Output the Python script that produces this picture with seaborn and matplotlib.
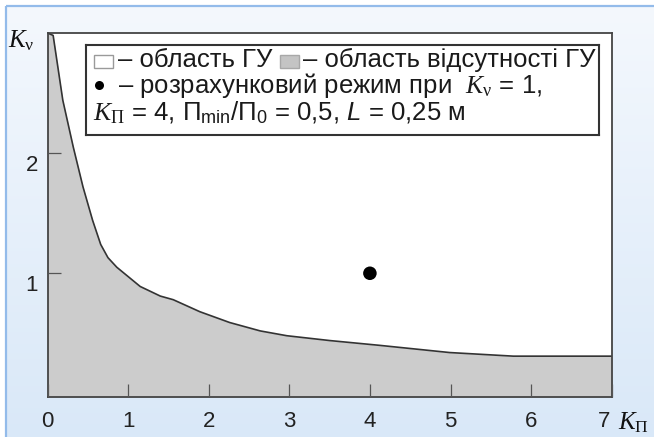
import numpy as np
import pandas as pd
import matplotlib
matplotlib.use("Agg")
import matplotlib.pyplot as plt
import matplotlib.transforms as mtransforms
from matplotlib.patches import Rectangle
import seaborn as sns

# Boundary of the region without the hydraulic shock (K_П vs K_ν)
k_pi = [0.0, 0.07, 0.19, 0.32, 0.44, 0.56, 0.66, 0.75, 0.86, 1.15, 1.40, 1.56,
        1.89, 2.26, 2.64, 2.97, 3.50, 4.12, 4.99, 5.78, 7.0]
k_nu = [3.0, 2.98, 2.44, 2.05, 1.72, 1.44, 1.24, 1.13, 1.05, 0.89, 0.81, 0.78,
        0.68, 0.59, 0.52, 0.48, 0.44, 0.40, 0.34, 0.31, 0.31]

# Design operating point
design_kpi = [4.0]
design_knu = [1.0]

x_ticks = [0, 1, 2, 3, 4, 5, 6, 7]
y_ticks = [1, 2]

boundary = pd.DataFrame({"kpi": k_pi, "knu": k_nu})
design = pd.DataFrame({"kpi": design_kpi, "knu": design_knu})

sns.set_theme(style="white")
plt.rcParams["font.family"] = ["Liberation Sans", "DejaVu Sans"]
plt.rcParams["mathtext.fontset"] = "custom"
plt.rcParams["mathtext.rm"] = "Liberation Sans"
plt.rcParams["mathtext.it"] = "Liberation Serif:italic"
plt.rcParams["mathtext.bf"] = "Liberation Serif"
plt.rcParams["mathtext.sf"] = "Liberation Sans:italic"

W, H = 654, 437
fig = plt.figure(figsize=(W / 100, H / 100), dpi=100)
fig.patch.set_facecolor("white")

# Light blue panel behind the chart
bg = fig.add_axes([0, 0, 1, 1], zorder=0)
bg.axis("off")
c_top = np.array([0xf4, 0xf8, 0xfd]) / 255
c_bot = np.array([0xd9, 0xe8, 0xf8]) / 255
t = np.linspace(0, 1, 256)[:, None, None]
grad = c_top * (1 - t) + c_bot * t
grad = np.repeat(grad, 4, axis=1)
bg.imshow(grad, extent=[6, W + 4, H + 4, 6], aspect="auto", interpolation="bicubic")
bg.plot([6, 6], [6, H + 4], color="#93bbea", lw=1.6, solid_capstyle="butt")
bg.plot([6, W + 4], [6, 6], color="#93bbea", lw=1.6, solid_capstyle="butt")
bg.set_xlim(0, W)
bg.set_ylim(H, 0)

# Main plotting area
L, R, T, B = 47.5, 611.7, 33, 397
ax = fig.add_axes([L / W, 1 - B / H, (R - L) / W, (B - T) / H], zorder=1)
ax.set_facecolor("white")
ax.set_axisbelow(False)
ax.set_xlim(0, 7)
ax.set_ylim(-0.03, 3.0)

ax.fill_between(boundary["kpi"], -0.03, boundary["knu"], color="#cccccc", lw=0, zorder=1)
sns.lineplot(data=boundary, x="kpi", y="knu", ax=ax, color="#333333", lw=1.2,
             sort=False, estimator=None, zorder=2)
sns.scatterplot(data=design, x="kpi", y="knu", ax=ax, color="black", s=95,
                edgecolor="none", zorder=3)

for s in ax.spines.values():
    s.set_color("#444444")
    s.set_linewidth(1.3)

ax.set_xticks(x_ticks)
ax.set_yticks(y_ticks)
ax.set_xticklabels([str(v) for v in x_ticks])
ax.set_yticklabels([str(v) for v in y_ticks])
ax.tick_params(bottom=True, left=True, direction="in", length=9.5, width=0.9,
               color="#555555", labelsize=16, labelcolor="#222222")
ax.tick_params(axis="x", pad=10)
ax.tick_params(axis="y", pad=7)
ax.set_xlabel("")
ax.set_ylabel("")

# y tick labels sit a little below their ticks
dy = mtransforms.ScaledTranslation(0, -10 / 100, fig.dpi_scale_trans)
for lab in ax.get_yticklabels():
    lab.set_transform(lab.get_transform() + dy)
# last x label moved left to leave room for the axis name
dx7 = mtransforms.ScaledTranslation(-8 / 100, 0, fig.dpi_scale_trans)
ax.get_xticklabels()[-1].set_transform(ax.get_xticklabels()[-1].get_transform() + dx7)

# Axis names
fig.text(8 / W, 1 - 47 / H, r"$K_{\mathbf{\nu}}$", fontsize=18, color="#111111",
         ha="left", va="baseline", zorder=5)
fig.text(618 / W, 1 - 429 / H, r"$K_{\mathbf{\Pi}}$", fontsize=18, color="#111111",
         ha="left", va="baseline", zorder=5)

# Explanation box
bx0, by0, bx1, by1 = 86, 45, 599, 135
lg = fig.add_axes([bx0 / W, 1 - by1 / H, (bx1 - bx0) / W, (by1 - by0) / H], zorder=4)
lg.set_xlim(0, bx1 - bx0)
lg.set_ylim(by1 - by0, 0)
lg.set_xticks([])
lg.set_yticks([])
lg.set_facecolor("white")
for s in lg.spines.values():
    s.set_color("#333333")
    s.set_linewidth(1.5)

lg.add_patch(Rectangle((8, 10), 19, 13, facecolor="white", edgecolor="#9a9a9a", lw=1.0))
lg.add_patch(Rectangle((194, 10), 19, 13, facecolor="#c4c4c4", edgecolor="#a8a8a8", lw=1.0))
lg.plot([13], [40], marker="o", ms=6.5, color="black", mec="none")

fs = 18.5
tc = "#1a1a1a"
lg.text(32, 22, "– область ГУ", fontsize=fs, color=tc, va="baseline")
lg.text(217, 22, "– область відсутності ГУ", fontsize=fs, color=tc, va="baseline")
lg.text(32, 47.5, r"– розрахунковий режим при  $K_{\mathbf{\nu}}$ = 1,", fontsize=fs,
        color=tc, va="baseline")
lg.text(7, 75, r"$K_{\mathbf{\Pi}}$ = 4, $\Pi_{\mathrm{min}}/\Pi_0$ = 0,5, $\mathsf{L}$ = 0,25 м",
        fontsize=fs, color=tc, va="baseline")

fig.savefig("out.png", dpi=100, facecolor=fig.get_facecolor())
